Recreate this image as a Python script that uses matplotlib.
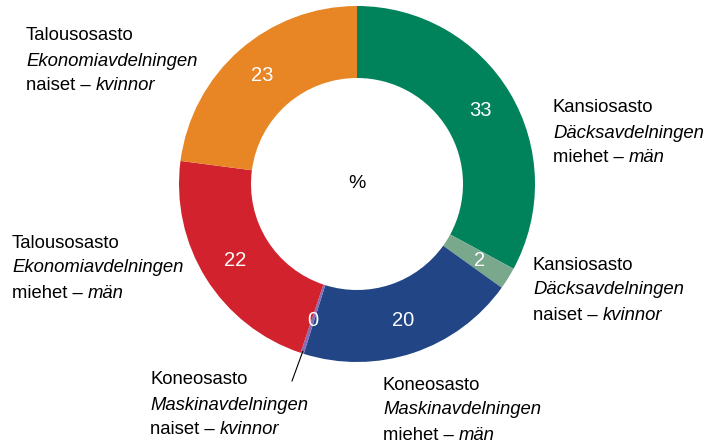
import matplotlib.pyplot as plt
import numpy as np

plt.rcParams['font.family'] = ['Liberation Sans', 'DejaVu Sans']

# osuudet (%), myötäpäivään ylhäältä
arvot = [33, 2, 20, 0.3, 22, 23]
arvo_tekstit = ['33', '2', '20', '0', '22', '23']
varit = ['#00825A', '#7AA88C', '#214585', '#8A6BB5', '#D1222E', '#E88626']

# nimikkeet: (osasto, avdelning, suomi, ruotsi)
nimikkeet = [
    ('Kansiosasto', 'Däcksavdelningen', 'miehet – ', 'män'),
    ('Kansiosasto', 'Däcksavdelningen', 'naiset – ', 'kvinnor'),
    ('Koneosasto', 'Maskinavdelningen', 'miehet – ', 'män'),
    ('Koneosasto', 'Maskinavdelningen', 'naiset – ', 'kvinnor'),
    ('Talousosasto', 'Ekonomiavdelningen', 'miehet – ', 'män'),
    ('Talousosasto', 'Ekonomiavdelningen', 'naiset – ', 'kvinnor'),
]
# nimikkeiden vasen yläkulma (pikseleinä, y ylhäältä)
paikat = [(553, 108), (533, 265), (383, 385), (150, 380), (12, 243), (26, 36)]

W, H = 706, 445
fig = plt.figure(figsize=(W / 100, H / 100), dpi=100)
ax = fig.add_axes([0, 0, 1, 1])

cx, cy = 357, H - 184
R, r_in = 178, 106

wedges, _ = ax.pie(arvot, colors=varit, startangle=90, counterclock=False,
                   radius=R, center=(cx, cy), frame=True,
                   wedgeprops=dict(width=R - r_in, linewidth=0))
ax.set_xlim(0, W)
ax.set_ylim(0, H)
ax.set_aspect('equal')
ax.axis('off')

rm = (R + r_in) / 2 + 2
for w, t in zip(wedges, arvo_tekstit):
    a = np.deg2rad((w.theta1 + w.theta2) / 2)
    ax.text(cx + rm * np.cos(a), cy + rm * np.sin(a), t, color='white',
            fontsize=14.5, ha='center', va='center')

ax.text(cx, cy, '%', fontsize=14, ha='center', va='center')

fs = 13.3
for (l1, l2, l3a, l3b), (x, y) in zip(nimikkeet, paikat):
    ax.text(x, H - y, l1, fontsize=fs, va='center', ha='left')
    ax.text(x, H - y - 25, l2, fontsize=fs, va='center', ha='left', style='italic')
    t = ax.text(x, H - y - 50, l3a, fontsize=fs, va='center', ha='left')
    ax.annotate(l3b, xy=(1, 0), xycoords=t, va='bottom', ha='left',
                fontsize=fs, style='italic')

# viiva pieneen osuuteen
w0 = wedges[3]
a0 = np.deg2rad((w0.theta1 + w0.theta2) / 2)
ax.plot([cx + (R - 2) * np.cos(a0), 292], [cy + (R - 2) * np.sin(a0), H - 381],
        color='black', linewidth=0.8)

fig.savefig('out.png', dpi=100)
